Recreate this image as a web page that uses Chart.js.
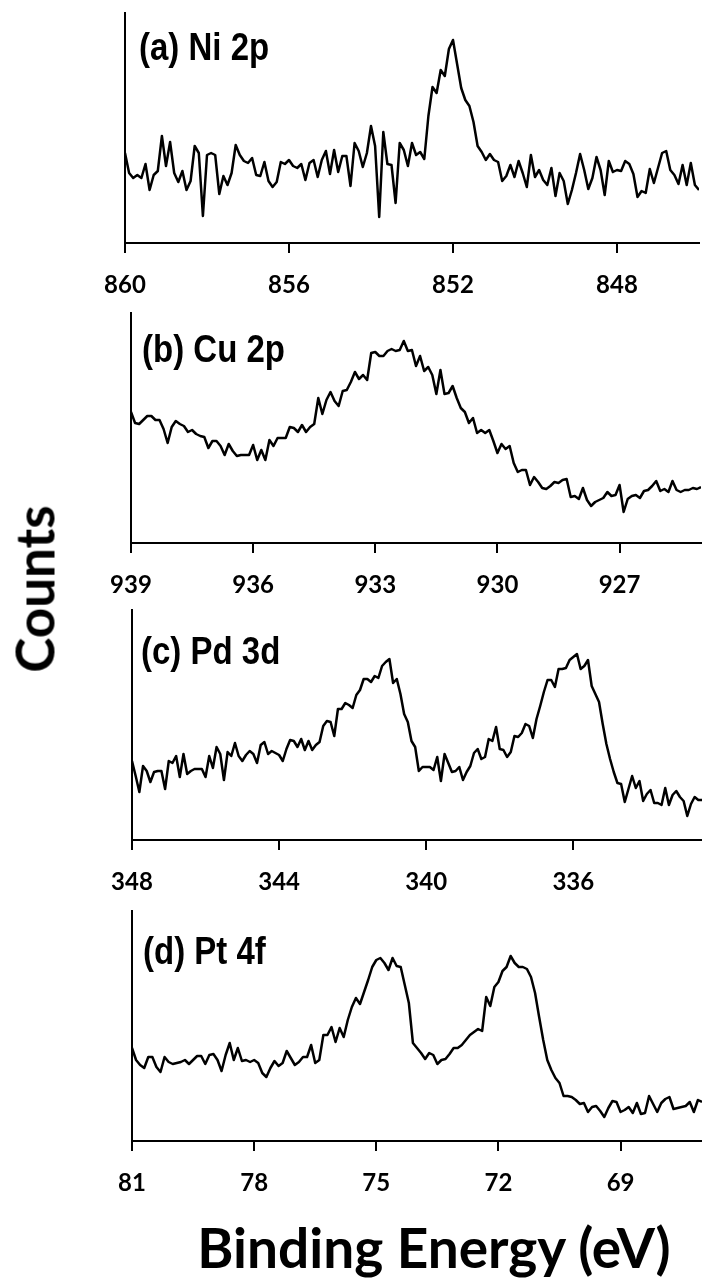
<!DOCTYPE html>
<html>
<head>
<meta charset="utf-8">
<script src="https://cdn.jsdelivr.net/npm/chart.js@4.4.0/dist/chart.umd.min.js"></script>
<style>
  html, body { margin:0; padding:0; background:#fff; }
  body { width:702px; height:1283px; position:relative; overflow:hidden; }
  canvas { position:absolute; left:0; }
  .plabel { position:absolute; font-family:"Liberation Sans", Arial, sans-serif; font-weight:bold; font-size:33px; line-height:33px; color:#000; white-space:nowrap; transform:scaleY(1.15); transform-origin:0 0; }
  #ylab { position:absolute; left:34px; top:589px; transform:translate(-50%,-50%) rotate(-90deg); font-family:Lato, sans-serif; font-weight:bold; font-size:53px; line-height:53px; color:#000; white-space:nowrap; }
  #xlab { position:absolute; left:434px; top:1247px; transform:translate(-50%,-50%); font-family:Lato, sans-serif; font-weight:bold; font-size:55px; line-height:55px; color:#000; white-space:nowrap; }
</style>
</head>
<body>
<canvas id="ca" width="702" height="295" style="top:8px"></canvas>
<canvas id="cb" width="702" height="295" style="top:308px"></canvas>
<canvas id="cc" width="702" height="295" style="top:605px"></canvas>
<canvas id="cd" width="702" height="295" style="top:906px"></canvas>
<div class="plabel" style="left:139px; top:28px">(a) Ni 2p</div>
<div class="plabel" style="left:142px; top:330px">(b) Cu 2p</div>
<div class="plabel" style="left:141px; top:632px">(c) Pd 3d</div>
<div class="plabel" style="left:143px; top:932px">(d) Pt 4f</div>
<div id="ylab">Counts</div>
<div id="xlab">Binding Energy (eV)</div>
<script>
// ---------- Ni 2p ----------
const niEnergy = [
860.0,859.9,859.8,859.7,859.6,859.5,859.4,859.3,859.2,859.1,
859.0,858.9,858.8,858.7,858.6,858.5,858.4,858.3,858.2,858.1,
858.0,857.9,857.8,857.7,857.6,857.5,857.4,857.3,857.2,857.1,
857.0,856.9,856.8,856.7,856.6,856.5,856.4,856.3,856.2,856.1,
856.0,855.9,855.8,855.7,855.6,855.5,855.4,855.3,855.2,855.1,
855.0,854.9,854.8,854.7,854.6,854.5,854.4,854.3,854.2,854.1,
854.0,853.9,853.8,853.7,853.6,853.5,853.4,853.3,853.2,853.1,
853.0,852.9,852.8,852.7,852.6,852.5,852.4,852.3,852.2,852.1,
852.0,851.9,851.8,851.7,851.6,851.5,851.4,851.3,851.2,851.1,
851.0,850.9,850.8,850.7,850.6,850.5,850.4,850.3,850.2,850.1,
850.0,849.9,849.8,849.7,849.6,849.5,849.4,849.3,849.2,849.1,
849.0,848.9,848.8,848.7,848.6,848.5,848.4,848.3,848.2,848.1,
848.0,847.9,847.8,847.7,847.6,847.5,847.4,847.3,847.2,847.1,
847.0,846.9,846.8,846.7,846.6,846.5,846.4,846.3,846.2,846.1,
846.0];
const niCounts = [
90,70,65,68,65,79,53,68,72,107, 77,101,70,61,72,53,62,97,90,27,
88,90,88,49,67,58,70,98,88,82, 80,85,68,67,81,62,56,61,81,79,
83,77,75,79,63,80,83,66,83,92, 69,93,71,87,87,57,100,92,76,90,
117,97,26,111,79,78,40,100,93,77, 100,
88,91,84,127,156,150,173,167,194,203, 179,155,143,137,121,97,91,83,89,83,
81,62,67,78,66,82,70,56,88,66, 73,63,58,75,47,70,62,39,53,70,
89,73,54,65,86,73,48,82,71,73, 72,82,79,69,46,52,50,74,60,75,
90,92,73,68,59,78,58,80,58,53];
const niTicks = [860, 856, 852, 848];

// ---------- Cu 2p ----------
const cuEnergy = [
939.0,938.9,938.8,938.7,938.6,938.5,938.4,938.3,938.2,938.1,
938.0,937.9,937.8,937.7,937.6,937.5,937.4,937.3,937.2,937.1,
937.0,936.9,936.8,936.7,936.6,936.5,936.4,936.3,936.2,936.1,
936.0,935.9,935.8,935.7,935.6,935.5,935.4,935.3,935.2,935.1,
935.0,934.9,934.8,934.7,934.6,934.5,934.4,934.3,934.2,934.1,
934.0,933.9,933.8,933.7,933.6,933.5,933.4,933.3,933.2,933.1,
933.0,932.9,932.8,932.7,932.6,932.5,932.4,932.3,932.2,932.1,
932.0,931.9,931.8,931.7,931.6,931.5,931.4,931.3,931.2,931.1,
931.0,930.9,930.8,930.7,930.6,930.5,930.4,930.3,930.2,930.1,
930.0,929.9,929.8,929.7,929.6,929.5,929.4,929.3,929.2,929.1,
929.0,928.9,928.8,928.7,928.6,928.5,928.4,928.3,928.2,928.1,
928.0,927.9,927.8,927.7,927.6,927.5,927.4,927.3,927.2,927.1,
927.0,926.9,926.8,926.7,926.6,926.5,926.4,926.3,926.2,926.1,
926.0,925.9,925.8,925.7,925.6,925.5,925.4,925.3,925.2,925.1,
925.0];
const cuCounts = [
131,120,119,123,127,127,123,123,114,100, 116,122,119,117,111,113,109,107,106,95,
102,102,97,88,99,92,87,88,88,88, 98,83,93,83,103,97,105,105,105,116,
115,111,118,111,116,119,145,129,143,151, 142,137,152,153,161,171,164,168,163,190,
191,187,187,192,194,192,193,202,192,193,
177,187,172,176,168,149,173,149,150,157, 145,135,131,120,125,110,113,110,113,102,
90,99,94,97,80,71,73,73,58,66, 61,55,54,57,61,60,63,64,46,47,
44,55,43,37,41,43,45,51,47,48, 58,31,44,47,48,45,52,53,57,62,
52,54,51,62,53,51,53,53,55,54, 56];
const cuTicks = [939, 936, 933, 930, 927];

// ---------- Pd 3d ----------
const pdEnergy = [
348.0,347.9,347.8,347.7,347.6,347.5,347.4,347.3,347.2,347.1,
347.0,346.9,346.8,346.7,346.6,346.5,346.4,346.3,346.2,346.1,
346.0,345.9,345.8,345.7,345.6,345.5,345.4,345.3,345.2,345.1,
345.0,344.9,344.8,344.7,344.6,344.5,344.4,344.3,344.2,344.1,
344.0,343.9,343.8,343.7,343.6,343.5,343.4,343.3,343.2,343.1,
343.0,342.9,342.8,342.7,342.6,342.5,342.4,342.3,342.2,342.1,
342.0,341.9,341.8,341.7,341.6,341.5,341.4,341.3,341.2,341.1,
341.0,340.9,340.8,340.7,340.6,340.5,340.4,340.3,340.2,340.1,
340.0,339.9,339.8,339.7,339.6,339.5,339.4,339.3,339.2,339.1,
339.0,338.9,338.8,338.7,338.6,338.5,338.4,338.3,338.2,338.1,
338.0,337.9,337.8,337.7,337.6,337.5,337.4,337.3,337.2,337.1,
337.0,336.9,336.8,336.7,336.6,336.5,336.4,336.3,336.2,336.1,
336.0,335.9,335.8,335.7,335.6,335.5,335.4,335.3,335.2,335.1,
335.0,334.9,334.8,334.7,334.6,334.5,334.4,334.3,334.2,334.1,
334.0,333.9,333.8,333.7,333.6,333.5,333.4,333.3,333.2,333.1,
333.0,332.9,332.8,332.7,332.6,332.5];
const pdCounts = [
79,64,48,74,69,58,68,69,69,51, 79,77,84,63,86,66,69,71,71,71,
63,84,72,93,86,60,88,84,97,84, 79,85,89,86,77,95,98,86,89,87,
85,79,91,100,99,93,101,90,99,90, 95,98,114,119,118,104,131,131,137,135,
132,145,150,161,161,158,164,162,174,178, 181,157,161,146,126,118,99,
93,69,73,73,73,70,83,59,86,77, 68,69,73,60,68,74,87,91,81,83,
101,99,113,91,90,83,88,104,103,107, 116,114,102,121,134,148,160,160,153,171,
171,172,180,183,186,171,174,180,154,146, 138,116,96,81,68,57,56,38,51,64,
52,59,39,46,50,37,37,35,52,35, 45,49,43,39,24,36,43,40,40];
const pdTicks = [348, 344, 340, 336];

// ---------- Pt 4f ----------
const ptEnergy = [
81.0,80.9,80.8,80.7,80.6,80.5,80.4,80.3,80.2,80.1,
80.0,79.9,79.8,79.7,79.6,79.5,79.4,79.3,79.2,79.1,
79.0,78.9,78.8,78.7,78.6,78.5,78.4,78.3,78.2,78.1,
78.0,77.9,77.8,77.7,77.6,77.5,77.4,77.3,77.2,77.1,
77.0,76.9,76.8,76.7,76.6,76.5,76.4,76.3,76.2,76.1,
76.0,75.9,75.8,75.7,75.6,75.5,75.4,75.3,75.2,75.1,
75.0,74.9,74.8,74.7,74.6,74.5,74.4,74.3,74.2,74.1,
74.0,73.9,73.8,73.7,73.6,73.5,73.4,73.3,73.2,73.1,
73.0,72.9,72.8,72.7,72.6,72.5,72.4,72.3,72.2,72.1,
72.0,71.9,71.8,71.7,71.6,71.5,71.4,71.3,71.2,71.1,
71.0,70.9,70.8,70.7,70.6,70.5,70.4,70.3,70.2,70.1,
70.0,69.9,69.8,69.7,69.6,69.5,69.4,69.3,69.2,69.1,
69.0,68.9,68.8,68.7,68.6,68.5,68.4,68.3,68.2,68.1,
68.0,67.9,67.8,67.7,67.6,67.5,67.4,67.3,67.2,67.1,
67.0];
const ptCounts = [
93,81,76,73,84,84,74,69,84,79, 77,78,79,81,77,81,85,85,77,86,
87,81,70,86,98,81,93,80,81,79, 81,78,68,64,73,80,75,78,90,83,
76,79,84,84,96,78,81,106,106,114, 99,113,104,121,134,143,137,149,161,174,
181,183,178,171,183,175,174,156,138,98,
93,88,82,88,86,77,81,82,87,93, 93,96,101,106,109,112,110,144,135,154,
159,170,174,185,178,174,174,172,164,148, 124,101,81,71,63,58,45,45,44,41,
37,38,29,34,35,30,24,33,40,39, 29,31,34,28,38,27,28,45,37,29,
38,42,44,32,33,34,35,39,29,41, 39];
const ptTicks = [81, 78, 75, 72, 69];

const countsMax = 230;

function makePanel(id, energy, counts, ticks, xmin, xmax, padLeft, padRight) {
  const pts = energy.map((e, i) => ({ x: e, y: counts[i] }));
  new Chart(document.getElementById(id), {
    type: 'line',
    data: { datasets: [{ data: pts, borderColor: '#000', borderWidth: 2.5, pointRadius: 0, tension: 0, fill: false, borderJoinStyle: 'round' }] },
    options: {
      responsive: false, animation: false, events: [],
      layout: { padding: { left: padLeft, right: padRight, top: 5, bottom: 0 } },
      plugins: { legend: { display: false }, tooltip: { enabled: false }, title: { display: false } },
      scales: {
        x: {
          type: 'linear', reverse: true, min: xmin, max: xmax,
          afterBuildTicks: s => { s.ticks = ticks.map(v => ({ value: v })); },
          afterFit: s => { s.height = 60; },
          grid: { display: true, drawOnChartArea: false, drawTicks: true, tickLength: 10, color: '#000', lineWidth: 2 },
          border: { display: true, color: '#000', width: 2 },
          ticks: { color: '#000', font: { family: 'Lato', weight: 'bold', size: 24 }, padding: 18, maxRotation: 0, autoSkip: false }
        },
        y: {
          min: 0, max: countsMax,
          ticks: { display: false },
          grid: { display: false },
          border: { display: true, color: '#000', width: 2 },
          afterFit: s => { s.width = 0; }
        }
      }
    }
  });
}

makePanel('ca', niEnergy, niCounts, niTicks, 846, 860, 125, 3);
makePanel('cb', cuEnergy, cuCounts, cuTicks, 925, 939, 131, 1);
makePanel('cc', pdEnergy, pdCounts, pdTicks, 332.5, 348, 132, 0);
makePanel('cd', ptEnergy, ptCounts, ptTicks, 67, 81, 132, 0);
</script>
</body>
</html>
